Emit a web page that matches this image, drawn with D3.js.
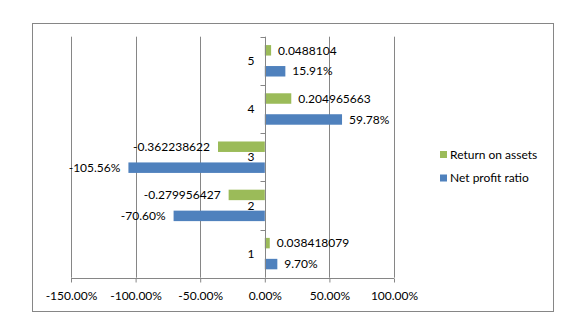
<!DOCTYPE html>
<html>
<head>
<meta charset="utf-8">
<script src="https://cdn.jsdelivr.net/npm/d3@7"></script>
<style>
  html, body { margin: 0; padding: 0; background: #fff; }
  svg { display: block; font-family: Lato, "Liberation Sans", Arial, sans-serif; }
</style>
</head>
<body>
<svg id="chart" width="575" height="326"></svg>
<script>
// ---- data ----
const categories = ["1", "2", "3", "4", "5"];
const netProfitRatio = [0.0970, -0.7060, -1.0556, 0.5978, 0.1591];
const returnOnAssets = [0.038418079, -0.279956427, -0.362238622, 0.204965663, 0.0488104];
const xTicks = [-1.5, -1.0, -0.5, 0, 0.5, 1.0];
const seriesNames = ["Return on assets", "Net profit ratio"];
const seriesColors = ["#9BBB59", "#4F81BD"];

// ---- layout ----
const svg = d3.select("#chart");
const plot = { left: 71, right: 394, top: 36.7, bottom: 277.7 };
const gridColor = "#868686";
const locale = d3.formatLocale({ decimal: ".", thousands: ",", grouping: [3], currency: ["$", ""], minus: "-" });
const pct = locale.format(".2%");

svg.append("rect")
  .attr("x", 32.5).attr("y", 23.5)
  .attr("width", 521).attr("height", 288)
  .attr("fill", "#fff").attr("stroke", gridColor).attr("stroke-width", 1);

const x = d3.scaleLinear().domain([-1.5, 1.0]).range([plot.left, plot.right]);
const y = d3.scaleBand().domain(categories.slice().reverse()).range([plot.top, plot.bottom]);
const sub = d3.scaleBand().domain(["roa", "npr"]).range([0, y.bandwidth()])
  .paddingInner(0.5).paddingOuter(0.4);

// gridlines
svg.append("g").selectAll("line").data(xTicks.filter(d => d !== 0)).join("line")
  .attr("x1", d => Math.round(x(d)) + 0.5).attr("x2", d => Math.round(x(d)) + 0.5)
  .attr("y1", plot.top).attr("y2", plot.bottom)
  .attr("stroke", gridColor).attr("stroke-width", 1);

// bars
const rows = categories.map((c, i) => ({ c, roa: returnOnAssets[i], npr: netProfitRatio[i] }));
const barsG = svg.append("g");
[["roa", 0], ["npr", 1]].forEach(([key, si]) => {
  barsG.selectAll("rect." + key).data(rows).join("rect")
    .attr("class", key)
    .attr("x", d => x(Math.min(0, d[key])))
    .attr("width", d => Math.abs(x(d[key]) - x(0)))
    .attr("y", d => y(d.c) + sub(key))
    .attr("height", sub.bandwidth())
    .attr("fill", seriesColors[si]);
});

// bottom axis
const xAxis = d3.axisBottom(x).tickValues(xTicks).tickSize(4).tickFormat(d => pct(d));
const gx = svg.append("g").attr("transform", `translate(0,${Math.round(plot.bottom) + 0.5})`).call(xAxis);
gx.select(".domain").attr("stroke", gridColor).attr("d", `M${plot.left},0H${plot.right}`);
gx.selectAll(".tick line").attr("stroke", gridColor);
gx.selectAll(".tick text").attr("font-size", 12).attr("fill", "#000").attr("dy", "0.32em").attr("y", 17.5)
  .attr("font-family", "Lato, 'Liberation Sans', Arial, sans-serif");

// category axis at zero
const x0 = Math.round(x(0)) + 0.5;
svg.append("line").attr("x1", x0).attr("x2", x0).attr("y1", plot.top).attr("y2", plot.bottom)
  .attr("stroke", gridColor);
const boundaries = categories.slice().reverse().map(c => y(c)).concat([plot.bottom]);
svg.append("g").selectAll("line").data(boundaries).join("line")
  .attr("x1", x0 - 5).attr("x2", x0)
  .attr("y1", d => Math.round(d) + 0.5).attr("y2", d => Math.round(d) + 0.5)
  .attr("stroke", gridColor);
svg.append("g").selectAll("text").data(categories).join("text")
  .attr("x", x0 - 11).attr("y", d => y(d) + y.bandwidth() / 2)
  .attr("text-anchor", "end").attr("dy", "0.35em")
  .attr("font-size", 12).attr("fill", "#000")
  .text(d => d);

// value labels
const labG = svg.append("g").attr("font-size", 12).attr("fill", "#000");
[["roa", d => String(d)], ["npr", d => pct(d)]].forEach(([key, fmt]) => {
  labG.selectAll("text." + key).data(rows).join("text")
    .attr("class", key)
    .attr("x", d => d[key] >= 0 ? x(d[key]) + 7 : x(d[key]) - 8)
    .attr("text-anchor", d => d[key] >= 0 ? "start" : "end")
    .attr("y", d => y(d.c) + sub(key) + sub.bandwidth() / 2)
    .attr("dy", "0.35em")
    .text(d => fmt(d[key]));
});

// legend
const legend = svg.append("g").attr("transform", "translate(440,151)");
seriesNames.forEach((name, i) => {
  const g = legend.append("g").attr("transform", `translate(0,${i * 23.5})`);
  g.append("rect").attr("width", 7).attr("height", 7).attr("fill", seriesColors[i]);
  g.append("text").attr("x", 10).attr("y", 3.5).attr("dy", "0.35em")
    .attr("font-size", 12).attr("fill", "#000").text(name);
});
</script>
</body>
</html>
